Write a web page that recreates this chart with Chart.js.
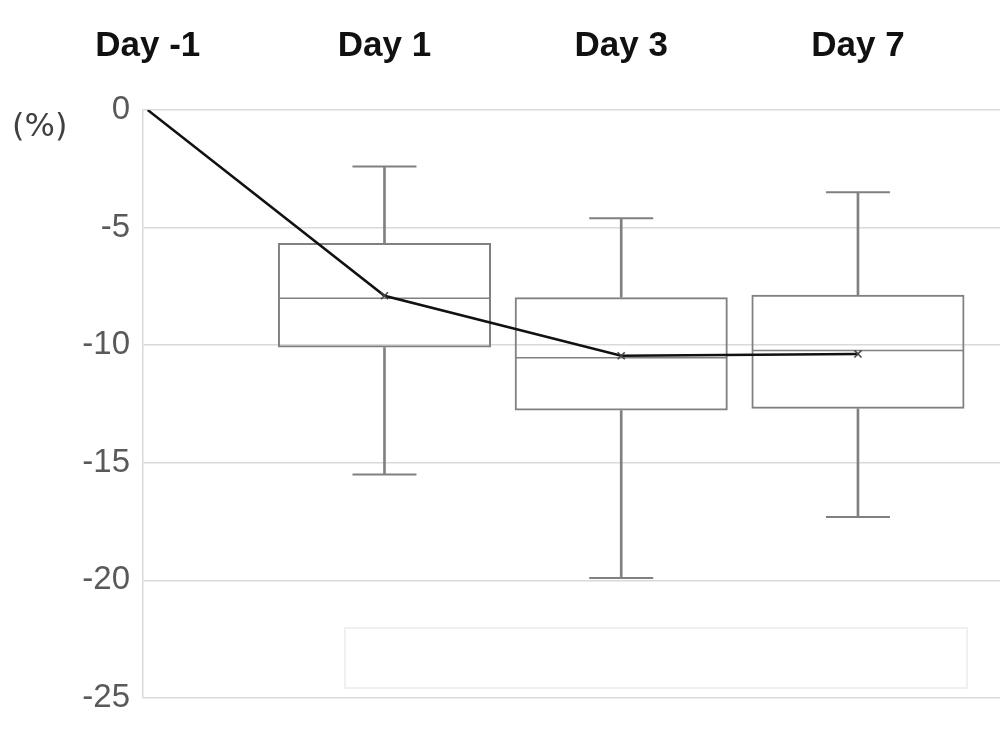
<!DOCTYPE html>
<html>
<head>
<meta charset="utf-8">
<script src="https://cdn.jsdelivr.net/npm/chart.js@4.4.0/dist/chart.umd.min.js"></script>
<style>
  html, body { margin: 0; padding: 0; background: #fff; }
  #wrap { position: relative; width: 1000px; height: 741px; }
  #unit { position: absolute; left: 12px; top: 106px; font: 32px 'DejaVu Sans', sans-serif; color: #404040; }
  #legendBox { position: absolute; left: 344px; top: 627px; width: 624px; height: 62px; border: 2px solid #f0f0f0; box-sizing: border-box; }
</style>
</head>
<body>
<div id="wrap">
  <canvas id="chart" width="1000" height="741"></canvas>
  <div id="unit">(%)</div>
  <div id="legendBox"></div>
</div>
<script>
// categories along the top
const days = ["Day -1", "Day 1", "Day 3", "Day 7"];
const dayPos = [0, 1, 2, 3];
// box plots (Day 1, Day 3, Day 7)
const boxPos = [1, 2, 3];
const whiskerMax = [-2.4, -4.6, -3.5];
const q3 = [-5.66, -7.96, -7.86];
const median = [-8.0, -10.53, -10.23];
const q1 = [-10.1, -12.78, -12.7];
const whiskerMin = [-15.5, -19.9, -17.3];
// mean line incl. baseline Day -1
const mean = [0, -7.9, -10.45, -10.37];
// y ticks
const yTicks = [0, -5, -10, -15, -20, -25];

const boxColor = "#808080";

Chart.defaults.font.family = "'Liberation Sans', Arial, sans-serif";

const pts = (ys) => boxPos.map((x, i) => ({ x: x, y: ys[i] }));

new Chart(document.getElementById("chart").getContext("2d"), {
    type: "bar",
    data: {
        datasets: [
            {
                type: "line",
                label: "Mean",
                data: dayPos.map((x, i) => ({ x: x, y: mean[i] })),
                borderColor: "#111",
                borderWidth: 2.5,
                tension: 0,
                pointStyle: "crossRot",
                pointRadius: [0, 5, 5, 5],
                pointBorderColor: "#444",
                pointBorderWidth: 1.5,
                order: 0
            },
            {
                label: "Box",
                data: boxPos.map((x, i) => ({ x: x, y: [q1[i], q3[i]] })),
                backgroundColor: "rgba(0,0,0,0)",
                borderColor: boxColor,
                borderWidth: 2,
                borderSkipped: false,
                barPercentage: 0.9,
                categoryPercentage: 1,
                grouped: false,
                order: 2
            },
            {
                label: "Upper whisker",
                data: boxPos.map((x, i) => ({ x: x, y: [q3[i], whiskerMax[i]] })),
                backgroundColor: boxColor,
                borderWidth: 0,
                barThickness: 2,
                grouped: false,
                order: 3
            },
            {
                label: "Lower whisker",
                data: boxPos.map((x, i) => ({ x: x, y: [whiskerMin[i], q1[i]] })),
                backgroundColor: boxColor,
                borderWidth: 0,
                barThickness: 2,
                grouped: false,
                order: 3
            },
            {
                type: "line",
                label: "Caps",
                data: pts(whiskerMax).concat(pts(whiskerMin)),
                showLine: false,
                pointStyle: "line",
                pointRadius: 32,
                pointBorderColor: boxColor,
                pointBorderWidth: 2,
                order: 1
            },
            {
                type: "line",
                label: "Median",
                data: pts(median),
                showLine: false,
                pointStyle: "line",
                pointRadius: 106,
                pointBorderColor: boxColor,
                pointBorderWidth: 1.5,
                order: 1
            }
        ]
    },
    options: {
        responsive: false,
        animation: false,
        events: [],
        layout: { autoPadding: false, padding: { left: 0, right: 0, top: 0, bottom: 43 } },
        plugins: {
            legend: { display: false },
            tooltip: { enabled: false }
        },
        scales: {
            x: {
                type: "linear",
                position: "top",
                offset: false,
                min: -0.02,
                max: 3.6,
                afterBuildTicks: s => { s.ticks = dayPos.map(v => ({ value: v })); },
                afterFit: s => { s.height = 110; },
                grid: { display: false },
                border: { display: false },
                ticks: {
                    padding: 35,
                    maxRotation: 0,
                    autoSkip: false,
                    color: "#111",
                    font: { size: 35, weight: "bold" },
                    callback: (v) => days[dayPos.indexOf(v)]
                }
            },
            y: {
                min: -25,
                max: 0,
                afterBuildTicks: s => { s.ticks = yTicks.map(v => ({ value: v })); },
                afterFit: s => { s.width = 143; },
                grid: { color: "#d9d9d9", lineWidth: 1.5, drawTicks: false },
                border: { display: true, color: "#d9d9d9", width: 1.5 },
                ticks: {
                    padding: 13,
                    color: "#595959",
                    font: { size: 33 }
                }
            }
        }
    }
});
</script>
</body>
</html>
